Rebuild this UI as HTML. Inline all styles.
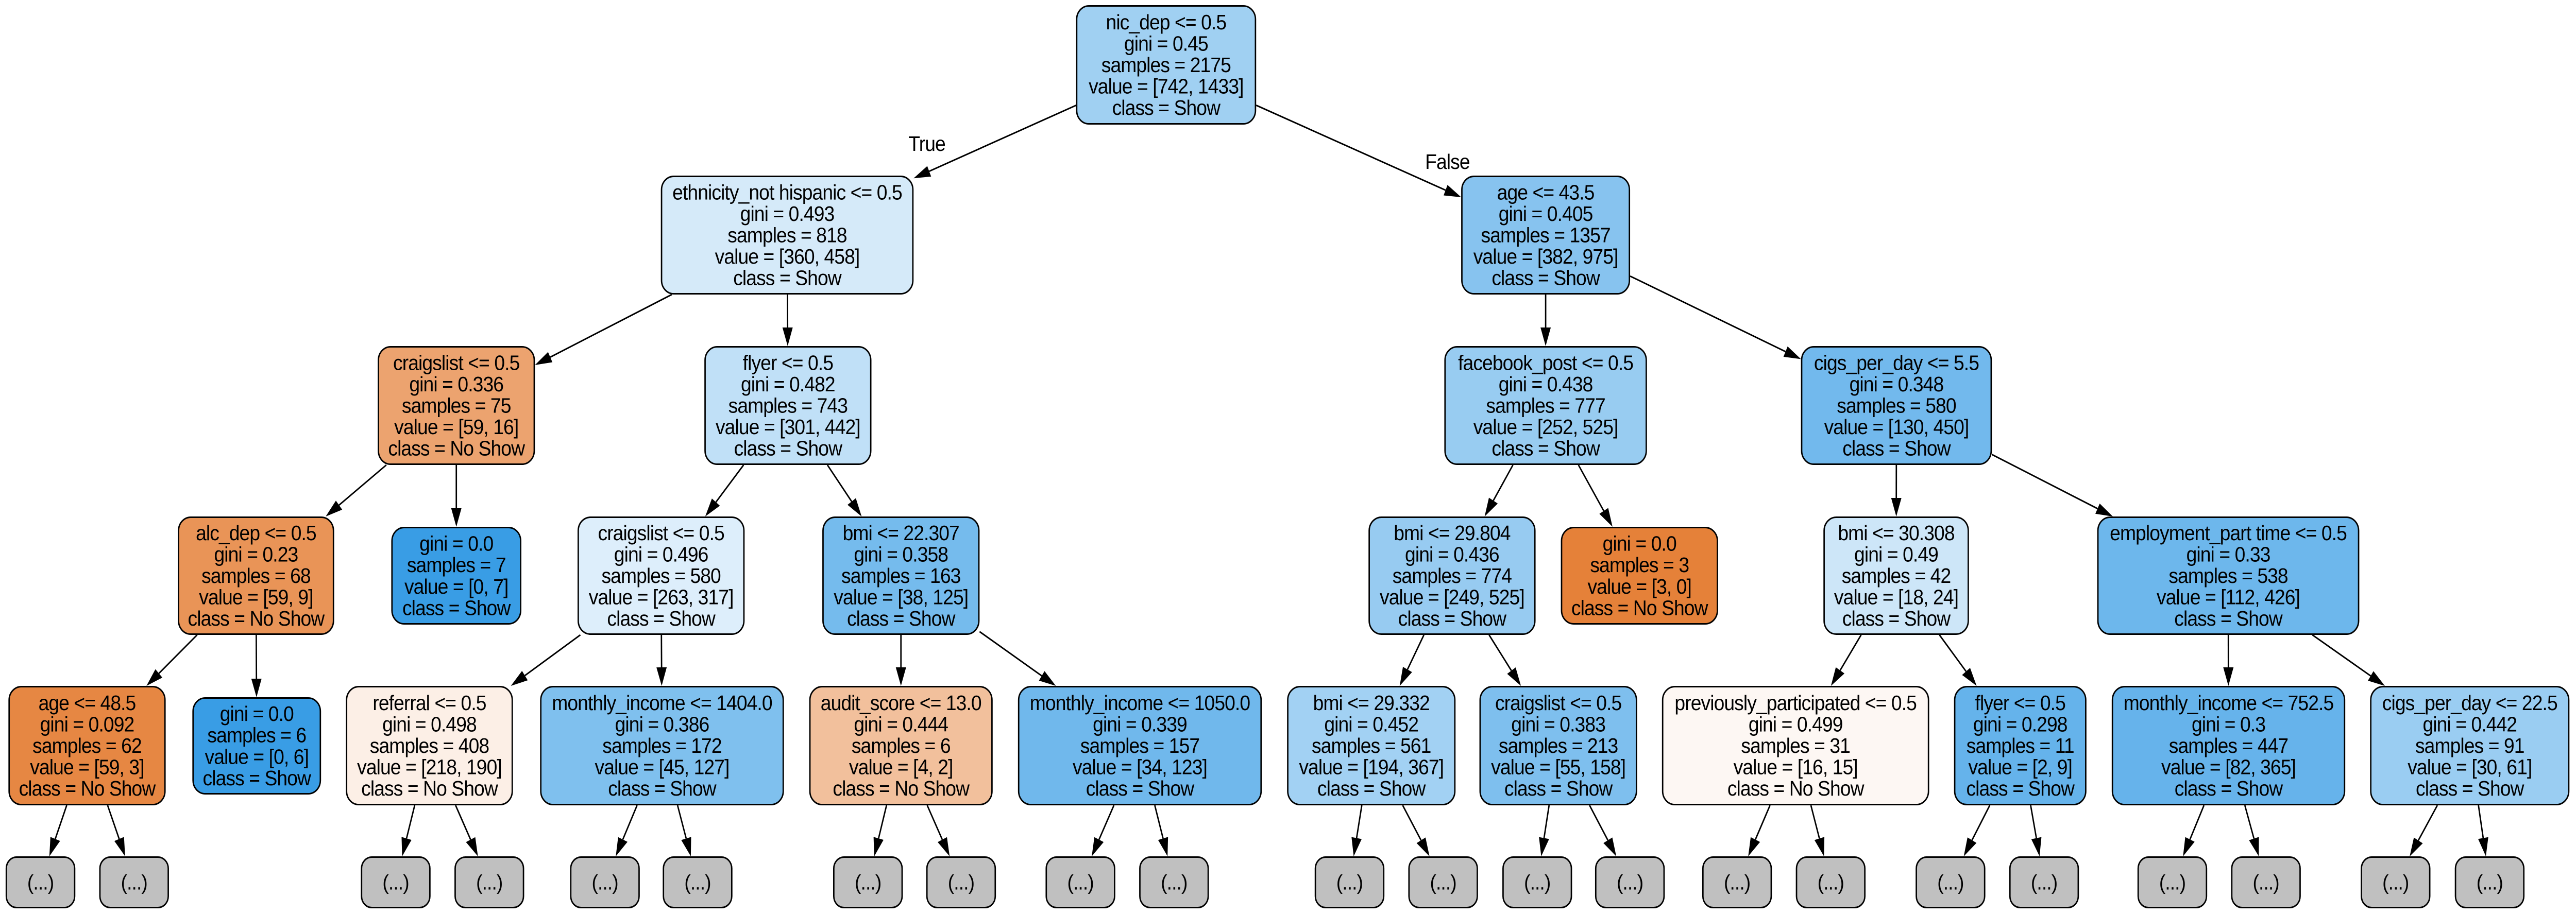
<!DOCTYPE html>
<html><head><meta charset="utf-8"><style>
html,body{margin:0;padding:0;background:#fff;overflow:hidden;width:100%;height:100%;}
#s{position:fixed;left:0;top:0;width:100vw;height:100vh;display:block;}
text{font-family:"Liberation Sans",Arial,sans-serif;font-size:41px;letter-spacing:-1px;fill:#000;}
</style></head><body>
<svg id="s" viewBox="0 0 5504 1775" preserveAspectRatio="none" xmlns="http://www.w3.org/2000/svg">
<text x="1941" y="293">True</text>
<text x="3045" y="328">False</text>
<g id="e"></g><g id="n"></g>
</svg>
<script>
var N={
root:[2299,2684,10,242,'#a0d0f2',['nic_dep <= 0.5','gini = 0.45','samples = 2175','value = [742, 1433]','class = Show']],
eth:[1412,1952,341,572,'#d5eaf9',['ethnicity_not hispanic <= 0.5','gini = 0.493','samples = 818','value = [360, 458]','class = Show']],
cr1:[807,1143,672,903,'#eca36f',['craigslist <= 0.5','gini = 0.336','samples = 75','value = [59, 16]','class = No Show']],
fl1:[1505,1862,672,903,'#c0e0f7',['flyer <= 0.5','gini = 0.482','samples = 743','value = [301, 442]','class = Show']],
alc:[380,714,1003,1233,'#e99457',['alc_dep <= 0.5','gini = 0.23','samples = 68','value = [59, 9]','class = No Show']],
lf7:[836,1114,1023,1213,'#399de5',['gini = 0.0','samples = 7','value = [0, 7]','class = Show']],
cr2:[1234,1591,1003,1233,'#ddeefb',['craigslist <= 0.5','gini = 0.496','samples = 580','value = [263, 317]','class = Show']],
bmi1:[1757,2093,1003,1233,'#75bbed',['bmi <= 22.307','gini = 0.358','samples = 163','value = [38, 125]','class = Show']],
age2:[18,354,1332,1564,'#e68743',['age <= 48.5','gini = 0.092','samples = 62','value = [59, 3]','class = No Show']],
lf6:[411,686,1354,1543,'#399de5',['gini = 0.0','samples = 6','value = [0, 6]','class = Show']],
ref:[739,1096,1332,1564,'#fcefe6',['referral <= 0.5','gini = 0.498','samples = 408','value = [218, 190]','class = No Show']],
mi1:[1154,1675,1332,1564,'#7fc0ee',['monthly_income <= 1404.0','gini = 0.386','samples = 172','value = [45, 127]','class = Show']],
aud:[1729,2121,1332,1564,'#f2c09c',['audit_score <= 13.0','gini = 0.444','samples = 6','value = [4, 2]','class = No Show']],
mi2:[2175,2696,1332,1564,'#70b8ec',['monthly_income <= 1050.0','gini = 0.339','samples = 157','value = [34, 123]','class = Show']],
age1:[3122,3483,341,572,'#87c3ef',['age <= 43.5','gini = 0.405','samples = 1357','value = [382, 975]','class = Show']],
fb:[3086,3519,672,903,'#98ccf1',['facebook_post <= 0.5','gini = 0.438','samples = 777','value = [252, 525]','class = Show']],
cg1:[3848,4256,672,903,'#72b9ed',['cigs_per_day <= 5.5','gini = 0.348','samples = 580','value = [130, 450]','class = Show']],
bmi2:[2924,3281,1003,1233,'#97cbf1',['bmi <= 29.804','gini = 0.436','samples = 774','value = [249, 525]','class = Show']],
lf3:[3335,3671,1023,1213,'#e58139',['gini = 0.0','samples = 3','value = [3, 0]','class = No Show']],
bmi3:[3896,4207,1003,1233,'#cde6f8',['bmi <= 30.308','gini = 0.49','samples = 42','value = [18, 24]','class = Show']],
emp:[4481,5041,1003,1233,'#6db7ec',['employment_part time <= 0.5','gini = 0.33','samples = 538','value = [112, 426]','class = Show']],
bmi4:[2750,3110,1332,1564,'#a2d1f3',['bmi <= 29.332','gini = 0.452','samples = 561','value = [194, 367]','class = Show']],
cr3:[3161,3498,1332,1564,'#7ebfee',['craigslist <= 0.5','gini = 0.383','samples = 213','value = [55, 158]','class = Show']],
prv:[3551,4122,1332,1564,'#fdf7f3',['previously_participated <= 0.5','gini = 0.499','samples = 31','value = [16, 15]','class = No Show']],
fl2:[4175,4458,1332,1564,'#65b3eb',['flyer <= 0.5','gini = 0.298','samples = 11','value = [2, 9]','class = Show']],
mi3:[4512,5011,1332,1564,'#66b3eb',['monthly_income <= 752.5','gini = 0.3','samples = 447','value = [82, 365]','class = Show']],
cg2:[5064,5490,1332,1564,'#9acdf2',['cigs_per_day <= 22.5','gini = 0.442','samples = 91','value = [30, 61]','class = Show']]
};
var gx=[12,212,771,971,1218,1416,1780,1979,2234,2434,2809,3009,3210,3408,3637,3837,4093,4293,4567,4767,5044,5245];
var gp=['age2','age2','ref','ref','mi1','mi1','aud','aud','mi2','mi2','bmi4','bmi4','cr3','cr3','prv','prv','fl2','fl2','mi3','mi3','cg2','cg2'];
var E=[['root','eth'],['root','age1'],['eth','cr1'],['eth','fl1'],['cr1','alc'],['cr1','lf7'],['fl1','cr2'],['fl1','bmi1'],['alc','age2'],['alc','lf6'],['cr2','ref'],['cr2','mi1'],['bmi1','aud'],['bmi1','mi2'],['age1','fb'],['age1','cg1'],['fb','bmi2'],['fb','lf3'],['cg1','bmi3'],['cg1','emp'],['bmi2','bmi4'],['bmi2','cr3'],['bmi3','prv'],['bmi3','fl2'],['emp','mi3'],['emp','cg2']];
gx.forEach(function(x,i){N['g'+i]=[x,x+149,1663,1764,'#c0c0c0',['(...)'],1];E.push([gp[i],'g'+i]);});
function esc(t){return t.replace(/&/g,'&amp;').replace(/</g,'&lt;');}
var h='';
for(var k in N){var n=N[k];var w=n[1]-n[0],hh=n[3]-n[2],cx=(n[0]+n[1])/2,cy=(n[2]+n[3])/2,r=n[6]?22:26;
h+='<rect x="'+(n[0]+1.5)+'" y="'+(n[2]+1.5)+'" width="'+(w-3)+'" height="'+(hh-3)+'" rx="'+r+'" ry="'+r+'" fill="'+n[4]+'" stroke="#000" stroke-width="3"/>';
var L=n[5].length;n[5].forEach(function(t,i){h+='<text x="'+cx+'" y="'+(cy+(i-(L-1)/2)*41.6+14)+'" text-anchor="middle">'+esc(t)+'</text>';});}
document.getElementById('n').innerHTML=h;
function clip(n,dx,dy){var cx=(n[0]+n[1])/2,cy=(n[2]+n[3])/2,hw=(n[1]-n[0])/2,hh=(n[3]-n[2])/2;var t=Math.min(dx?hw/Math.abs(dx):1e9,dy?hh/Math.abs(dy):1e9);return [cx+dx*t,cy+dy*t];}
var s='';
E.forEach(function(e){var a=N[e[0]],b=N[e[1]];var ax=(a[0]+a[1])/2,ay=(a[2]+a[3])/2,bx=(b[0]+b[1])/2,by=(b[2]+b[3])/2;var dx=bx-ax,dy=by-ay;var p=clip(a,dx,dy),q=clip(b,-dx,-dy);var Ln=Math.hypot(q[0]-p[0],q[1]-p[1]),ux=(q[0]-p[0])/Ln,uy=(q[1]-p[1])/Ln;var al=36,aw=11;var bx2=q[0]-ux*al,by2=q[1]-uy*al;
s+='<line x1="'+p[0]+'" y1="'+p[1]+'" x2="'+bx2+'" y2="'+by2+'" stroke="#000" stroke-width="3"/>';
s+='<polygon points="'+q[0]+','+q[1]+' '+(bx2-uy*aw)+','+(by2+ux*aw)+' '+(bx2+uy*aw)+','+(by2-ux*aw)+'" fill="#000"/>';});
document.getElementById('e').innerHTML=s;
</script>
</body></html>
